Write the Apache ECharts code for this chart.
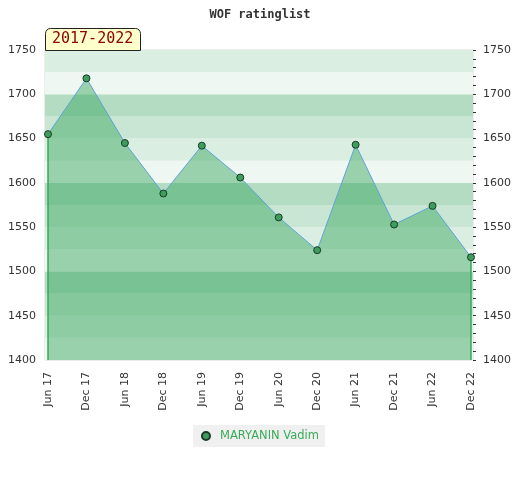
<!DOCTYPE html>
<html>
<head>
<meta charset="utf-8">
<script src="https://cdn.jsdelivr.net/npm/echarts@6/dist/echarts.min.js"></script>
<style>html,body{margin:0;padding:0;background:#fff;}#c{width:520px;height:480px;}</style>
</head>
<body>
<div id="c"></div>
<script>
var chartTitle = 'WOF ratinglist';
var periodLabel = '2017-2022';
var seriesName = 'MARYANIN Vadim';
var categories = ['Jun 17','Dec 17','Jun 18','Dec 18','Jun 19','Dec 19','Jun 20','Dec 20','Jun 21','Dec 21','Jun 22','Dec 22'];
var ratings = [1655, 1718, 1645, 1588, 1642, 1606, 1561, 1524, 1643, 1553, 1574, 1516];
var yMin = 1400, yMax = 1750, yStep = 50, bandStep = 25;
var bandColors = ['#eff7f2', '#dbeee2', '#c8e6d3', '#b3dcc2'];

var bands = [];
for (var lo = yMin, i = 0; lo < yMax; lo += bandStep, i++) {
  bands.push([{yAxis: lo, itemStyle: {color: bandColors[i % 4], opacity: 1}}, {yAxis: lo + bandStep}]);
}
var last = categories.length - 1;
function plain(v) { return String(v); }

var chart = echarts.init(document.getElementById('c'));
chart.setOption({
  animation: false,
  title: [
    {text: chartTitle, left: 'center', top: 4,
     textStyle: {fontFamily: 'DejaVu Sans Mono', fontWeight: 'bold', fontSize: 12, color: '#333'}},
    {text: periodLabel, left: 45, top: 28, backgroundColor: '#ffffcc', borderColor: '#222', borderWidth: 1,
     borderRadius: [5, 5, 0, 0], padding: [4, 7, 4, 7],
     textStyle: {fontFamily: 'DejaVu Sans Mono', fontWeight: 'normal', fontSize: 15, color: '#8b0000'}}
  ],
  grid: [
    {left: 45, right: 47, top: 50, bottom: 120, show: true, borderColor: '#d8d8d8', borderWidth: 1, backgroundColor: 'transparent'},
    {left: 48, right: 49, top: 50, bottom: 120}
  ],
  legend: {
    bottom: 33, left: 'center', backgroundColor: '#f0f0f0', padding: [5, 6, 5, 8],
    icon: 'circle', itemWidth: 8, itemHeight: 8,
    textStyle: {color: '#3aaa5a', fontSize: 11.5, fontFamily: 'DejaVu Sans', padding: [0, 0, 0, 5]},
    data: [seriesName]
  },
  xAxis: [
    {type: 'value', gridIndex: 0, min: 0, max: 1, show: false},
    {type: 'category', gridIndex: 1, data: categories, boundaryGap: false,
     axisLine: {show: false}, axisTick: {show: false},
     axisLabel: {rotate: 90, margin: 12, color: '#333', fontSize: 11, fontFamily: 'DejaVu Sans'}}
  ],
  yAxis: [
    {type: 'value', gridIndex: 0, min: yMin, max: yMax, interval: yStep, position: 'left',
     axisLine: {show: false}, axisTick: {show: false}, splitLine: {show: false},
     axisLabel: {margin: 9, color: '#333', fontSize: 11, fontFamily: 'DejaVu Sans', formatter: plain}},
    {type: 'value', gridIndex: 0, min: yMin, max: yMax, interval: yStep, position: 'right',
     axisLine: {show: false}, axisTick: {show: true, length: 3, lineStyle: {color: '#333'}},
     minorTick: {show: true, splitNumber: 5, length: 3, lineStyle: {color: '#333'}},
     splitLine: {show: false},
     axisLabel: {margin: 10, color: '#333', fontSize: 11, fontFamily: 'DejaVu Sans', formatter: plain}},
    {type: 'value', gridIndex: 1, min: yMin, max: yMax, show: false, splitLine: {show: false}}
  ],
  series: [
    {type: 'line', xAxisIndex: 0, yAxisIndex: 0, data: [[0, yMin]], symbol: 'none', silent: true,
     lineStyle: {opacity: 0}, z: 0,
     markArea: {silent: true, data: bands}},
    {name: seriesName, type: 'line', xAxisIndex: 1, yAxisIndex: 2, data: ratings, z: 5,
     symbol: 'circle', symbolSize: 7,
     itemStyle: {color: '#3c9d5d', borderColor: '#1c3a28', borderWidth: 1},
     lineStyle: {color: '#5fa4d8', width: 1},
     areaStyle: {color: 'rgb(55,166,94)', opacity: 0.47, origin: 'start'},
     markLine: {silent: true, symbol: 'none', label: {show: false},
       lineStyle: {color: '#3aaa5a', width: 1.5, type: 'solid'},
       data: [
         [{coord: [categories[0], yMin]}, {coord: [categories[0], ratings[0]]}],
         [{coord: [categories[last], yMin]}, {coord: [categories[last], ratings[last]]}]
       ]}}
  ]
});
</script>
</body>
</html>
